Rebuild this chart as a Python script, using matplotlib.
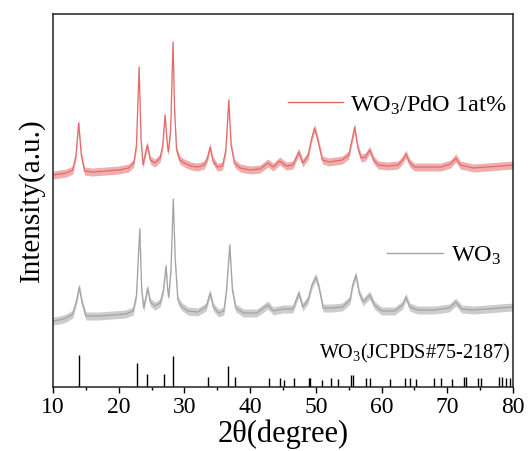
#!/usr/bin/env python3

import numpy as np
import matplotlib
matplotlib.use('Agg')
from matplotlib import pyplot as plt

# Times-like fonts for everything
matplotlib.rc('font', family='Liberation Serif', size=17)
matplotlib.rc('mathtext', fontset='custom', rm='Liberation Serif',
              it='Liberation Serif:italic', bf='Liberation Serif:bold')

# WO3/PdO 1at% trace (2theta, intensity a.u.)
pdo_x = [10.0, 11.0, 12.0, 13.0, 13.5, 13.9, 14.3, 14.8, 16.0, 18.0, 20.0,
         21.5, 22.3, 22.7, 23.1, 23.4, 23.7, 24.0, 24.35, 24.8, 25.5, 26.3,
         26.7, 27.05, 27.4, 27.55, 27.9, 28.26, 28.5, 28.8, 29.3, 30.0, 31.0,
         32.0, 33.0, 33.5, 33.9, 34.3, 35.0, 35.8, 36.3, 36.75, 37.1, 37.6,
         38.5, 40.0, 41.5, 42.7, 43.5, 44.5, 45.5, 46.5, 47.4, 48.0, 48.8,
         49.3, 49.8, 50.3, 51.0, 52.0, 53.0, 54.0, 55.0, 55.5, 55.9, 56.4,
         56.9, 57.5, 58.2, 58.8, 59.5, 61.0, 62.5, 63.2, 63.7, 64.3, 65.0,
         67.0, 69.0, 70.5, 71.3, 72.0, 74.0, 76.0, 78.0, 80.0]
pdo_y = [212, 213, 214, 217, 232, 264, 232, 216, 215, 216, 217,
         219, 224, 242, 320, 247, 222, 232, 242, 227, 224, 229,
         242, 272, 242, 235, 257, 345, 277, 237, 227, 224, 221,
         220, 222, 229, 240, 227, 220, 221, 237, 287, 242, 224,
         219, 217, 218, 224, 220, 226, 221, 222, 235, 224, 231,
         247, 259, 247, 227, 225, 226, 227, 232, 247, 260, 239,
         229, 230, 237, 227, 222, 221, 222, 227, 233, 224, 220,
         220, 220, 223, 229, 222, 219, 220, 221, 222]

# pure WO3 trace
wo3_x = [10.0, 11.0, 12.0, 13.0, 13.6, 14.0, 14.4, 15.0, 17.0, 19.0, 21.0,
         22.2, 22.7, 23.2, 23.5, 23.8, 24.1, 24.4, 24.8, 25.5, 26.3, 26.8,
         27.2, 27.45, 27.6, 27.95, 28.3, 28.6, 29.0, 29.5, 30.5, 32.0, 33.3,
         33.9, 34.4, 35.2, 36.0, 36.4, 36.9, 37.3, 37.8, 39.0, 41.0, 42.7,
         43.5, 45.0, 46.5, 47.4, 48.0, 48.8, 49.4, 50.0, 50.5, 51.1, 52.5,
         54.0, 55.2, 55.6, 56.1, 56.6, 57.2, 58.2, 58.9, 60.0, 62.0, 63.2,
         63.7, 64.3, 65.5, 68.0, 70.3, 71.3, 72.2, 74.0, 76.0, 78.0, 80.0]
wo3_y = [66, 67, 69, 73, 87, 100, 85, 71, 71, 72, 73,
         76, 92, 158, 97, 79, 89, 99, 85, 81, 84, 97,
         121, 97, 90, 117, 188, 127, 87, 81, 76, 75, 80,
         94, 80, 74, 76, 97, 142, 97, 79, 74, 74, 82,
         76, 78, 78, 94, 80, 87, 102, 110, 99, 79, 79,
         80, 87, 102, 112, 94, 85, 92, 82, 76, 76, 82,
         90, 80, 77, 77, 79, 85, 78, 77, 78, 79, 80]

# JCPDS#75-2187 reference lines
ref_pos = [13.96, 22.74, 24.3, 26.85, 28.26, 33.6, 36.6, 37.65, 42.9, 44.5,
           45.2, 46.6, 48.9, 49.1, 51.0, 52.3, 53.3, 55.4, 55.6, 57.6, 58.3,
           61.3, 63.6, 64.3, 65.2, 68.0, 69.0, 70.7, 72.6, 72.8, 74.6, 75.1,
           77.9, 78.3, 79.0, 79.5]
ref_int = [32, 24, 13, 13, 31, 10, 21, 10, 9, 9,
           7, 9, 9, 9, 7, 9, 8, 12, 12, 9, 9,
           8, 9, 9, 8, 9, 9, 8, 10, 10, 9, 9,
           10, 10, 9, 9]

red = '#E36B6B'
grey = '#A3A3A3'

fig = plt.figure(figsize=(5.28, 4.51), dpi=100)
ax = fig.add_axes([0.1004, 0.1419, 0.8712, 0.827])

# noisy look: a band around each trace plus the trace itself
for xs, ys, c in [(pdo_x, pdo_y, red), (wo3_x, wo3_y, grey)]:
    xs = np.array(xs)
    ys = np.array(ys)
    ax.fill_between(xs, ys - 4, ys + 4, color=c, alpha=0.55, lw=0)
    ax.plot(xs, ys, color=c, lw=0.9)

ax.vlines(ref_pos, 0, ref_int, color='black', lw=1.0)

ax.set_xlim(10, 80)
ax.set_ylim(0, 373)
ax.set_xticks(np.arange(10, 81, 10))
ax.set_xticks(np.arange(15, 80, 10), minor=True)
ax.set_yticks([])
ax.tick_params(axis='x', which='major', direction='out', length=4.5,
               width=1.0, pad=3, top=False)
ax.tick_params(axis='x', which='minor', direction='out', length=2.5,
               width=1.0, top=False)
for s in ax.spines.values():
    s.set_linewidth(1.1)
    s.set_color('#222222')

ax.set_xlabel(u'2\u03b8(degree)', fontsize=22, labelpad=1)
ax.set_ylabel('Intensity(a.u.)', fontsize=21, labelpad=6)

# hand placed legend entries, like the original
ax.plot([0.511, 0.630], [0.765, 0.765], color=red, lw=1.0,
        transform=ax.transAxes)
ax.text(0.6457, 0.737, r'WO$_3$/PdO 1at%', fontsize=17.5,
        transform=ax.transAxes, va='baseline')
ax.plot([0.726, 0.848], [0.360, 0.360], color=grey, lw=1.0,
        transform=ax.transAxes)
ax.text(0.865, 0.335, r'WO$_3$', fontsize=17.5,
        transform=ax.transAxes, va='baseline')
ax.text(0.9935, 0.0777, r'WO$_3$(JCPDS#75-2187)', fontsize=14.5,
        transform=ax.transAxes, va='baseline', ha='right')

plt.savefig('out.png', dpi=100)
